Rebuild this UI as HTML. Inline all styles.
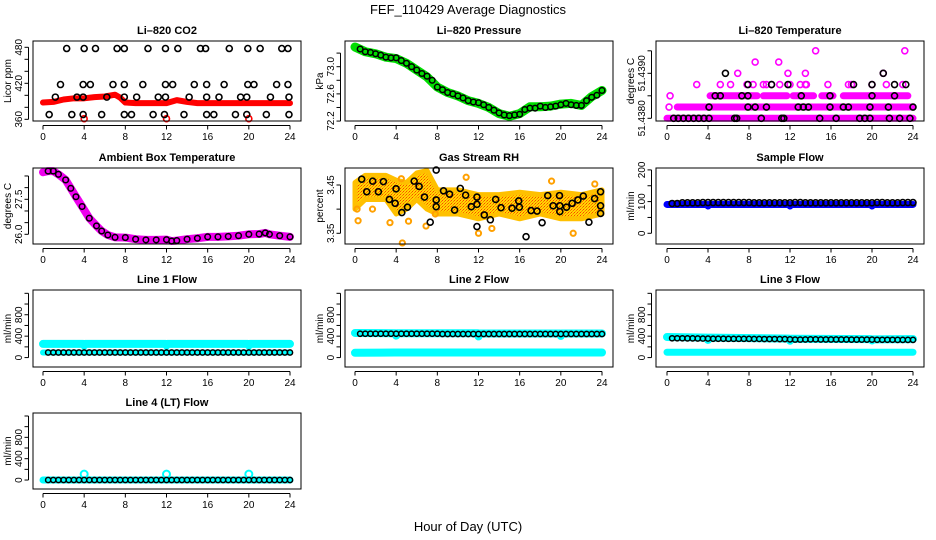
<!DOCTYPE html>
<html><head><meta charset="utf-8"><style>
html,body{margin:0;padding:0;background:#fff}
svg{display:block;font-family:"Liberation Sans",Arial,sans-serif}
</style></head><body>
<svg id="c" width="936" height="540" viewBox="0 0 936 540" xmlns="http://www.w3.org/2000/svg">
<defs><pattern id="dith" width="3" height="3" patternUnits="userSpaceOnUse"><rect width="3" height="3" fill="#ffd800"/><rect width="1" height="1" fill="#ff7000"/><rect x="2" y="1" width="1" height="1" fill="#ff9000"/><rect x="1" y="2" width="1" height="1" fill="#ff4000"/></pattern></defs>
<text x="468" y="14" text-anchor="middle" font-size="13">FEF_110429  Average Diagnostics</text>
<text x="468" y="531" text-anchor="middle" font-size="13">Hour of Day (UTC)</text>
</svg>
<script>
// ---------- data ----------
const xTicks=[0,4,8,12,16,20,24];
// CO2
const co2RedHours=[0,1,2,3,4,5,6,7,7.5,8,9,10,11,12,13,14,15,16,17,18,19,20,21,22,23,24];
const co2RedVals=[388,389,393,395,395,397,398,401,396,388,387,387,387,387,392,389,387,387,387,387,387,387,387,387,387,387];
const co2OutHours=[4,12,20];
const co2OutVals=[361,361,361];
const co2BlackHours=[2.3,4.0,5.1,7.2,7.9,10.2,11.9,13.1,15.3,15.8,18.1,19.9,21.1,23.2,23.8,1.7,3.9,4.6,6.8,7.9,9.7,11.9,12.6,14.7,15.9,17.6,19.9,20.5,22.7,23.8,1.2,3.3,3.9,6.2,7.9,9.1,11.2,11.9,14.2,15.9,17.1,19.2,19.8,22.1,23.9,0.6,2.8,3.9,5.7,7.9,8.6,10.7,11.8,13.7,15.9,16.6,18.7,19.8,21.7,23.9];
const co2BlackVals=[478,478,478,478,478,478,478,478,478,478,478,478,478,478,478,418,418,418,418,418,418,418,418,418,418,418,418,418,418,418,397,397,397,397,397,397,397,397,397,397,397,397,397,397,397,368,368,368,368,368,368,368,368,368,368,368,368,368,368,368];
// Pressure
const presHours=[0,1,2,3,4,5,6,7,8,9,10,11,12,13,14,15,16,17,18,19,20,21,22,23,24];
const presVals=[73.29,73.22,73.19,73.14,73.12,73.05,72.95,72.85,72.70,72.62,72.57,72.50,72.46,72.40,72.31,72.27,72.31,72.41,72.41,72.42,72.45,72.46,72.43,72.56,72.65];
const presBlackHours=[0.5,1,1.5,2,2.5,3,3.5,4,4.5,5,5.5,6,6.5,7,7.5,8,8.5,9,9.5,10,10.5,11,11.5,12,12.5,13,13.5,14,14.5,15,15.5,16,16.5,17,17.5,18,18.5,19,19.5,20,20.5,21,21.5,22,22.5,23,23.5,24];
const presBlackVals=[73.26,73.22,73.21,73.19,73.17,73.14,73.13,73.13,73.09,73.05,73.00,72.95,72.90,72.86,72.80,72.70,72.66,72.62,72.60,72.57,72.54,72.50,72.48,72.47,72.44,72.40,72.36,72.32,72.29,72.28,72.29,72.30,72.37,72.39,72.39,72.42,72.40,72.41,72.42,72.44,72.46,72.44,72.43,72.43,72.50,72.55,72.58,72.65];
// Li-820 temperature (discrete levels)
const tBandStart=[0,1.0,4.2,9.4,12.3,15.1,17.2,20.4];
const tBandEnd=[24,24,8.8,11.7,14.3,16.2,20.4,23.5];
const tBandVals=[51.4380,51.43825,51.4385,51.4385,51.4385,51.4385,51.4385,51.4385];
const tMagHours=[0.2,0.3,2.9,5.2,6.2,7.8,8.4,9.4,9.7,10.2,11.0,12.0,13.0,13.5,13.6,15.7,17.7,18.0,20.0,21.4,23.0,6.9,11.8,13.5,21.1,8.6,10.9,14.5,23.2];
const tMagVals=[51.43825,51.4385,51.43875,51.43875,51.43875,51.43875,51.43875,51.43875,51.43875,51.43875,51.43875,51.43875,51.43875,51.43875,51.43875,51.43875,51.43875,51.43875,51.43875,51.43875,51.43875,51.4390,51.4390,51.4390,51.4390,51.43925,51.43925,51.4395,51.4395];
const tBlackHours=[0.65,1.1,1.6,2.1,2.6,3.1,3.6,4.1,6.6,6.8,9.2,11.2,11.4,14.9,16.5,18.8,19.3,19.8,21.7,22.7,23.7,4.1,7.9,8.6,9.7,12.8,13.3,13.8,15.9,17.2,17.7,19.8,21.6,24,4.7,5.2,7.3,7.9,13.1,15.9,20.0,22.2,7.9,10.2,11.8,18.2,20.0,22.2,23.3,5.7,21.1];
const tBlackVals=[51.4380,51.4380,51.4380,51.4380,51.4380,51.4380,51.4380,51.4380,51.4380,51.4380,51.4380,51.4380,51.4380,51.4380,51.4380,51.4380,51.4380,51.4380,51.4380,51.4380,51.4380,51.43825,51.43825,51.43825,51.43825,51.43825,51.43825,51.43825,51.43825,51.43825,51.43825,51.43825,51.43825,51.43825,51.4385,51.4385,51.4385,51.4385,51.4385,51.4385,51.4385,51.4385,51.43875,51.43875,51.43875,51.43875,51.43875,51.43875,51.43875,51.4390,51.4390];
// Ambient box temperature
const ambHours=[0,0.5,1,1.5,2.2,2.7,3.2,3.8,4.5,5.2,5.7,6.3,7,8,9,10,11,12,12.5,13,14,15,16,17,18,19,20,21,21.6,22,23,24];
const ambVals=[28.66,28.71,28.71,28.57,28.33,27.97,27.61,27.19,26.69,26.36,26.14,25.97,25.87,25.86,25.79,25.76,25.76,25.77,25.71,25.73,25.79,25.83,25.89,25.89,25.91,25.94,26.0,26.01,26.06,26.0,25.94,25.89];
// Gas stream RH
const rhBandHours=[0,1,3,4,5,6,7,8,10,12,14,16,18,20,22,24];
const rhUpper=[3.455,3.47,3.47,3.46,3.455,3.475,3.48,3.44,3.44,3.43,3.43,3.435,3.43,3.435,3.43,3.44];
const rhLower=[3.40,3.42,3.42,3.39,3.40,3.42,3.40,3.39,3.39,3.38,3.39,3.38,3.39,3.38,3.38,3.39];
const rhOutHours=[0.2,0.3,1.7,3.4,4.6,5.2,6.9,12.0,13.3,21.2,19.1,23.3,7.8,4.5,10.8];
const rhOutVals=[3.40,3.376,3.40,3.372,3.33,3.375,3.365,3.35,3.36,3.35,3.458,3.452,3.39,3.463,3.466];
const rhBlackHours=[0.65,1.14,1.72,2.27,2.76,3.34,3.90,3.99,4.55,5.10,5.75,6.23,6.75,7.31,7.89,7.89,7.89,8.60,9.19,9.68,10.23,10.75,11.30,11.85,11.85,11.85,12.56,13.15,13.67,14.19,15.26,15.91,15.97,16.62,17.11,17.69,18.18,18.73,19.25,19.87,19.90,19.90,20.55,21.10,21.66,22.18,22.73,23.28,23.86,23.86,23.86];
const rhBlackVals=[3.462,3.436,3.458,3.436,3.457,3.420,3.412,3.442,3.393,3.404,3.458,3.447,3.425,3.373,3.481,3.419,3.405,3.438,3.431,3.398,3.443,3.429,3.405,3.425,3.410,3.364,3.388,3.378,3.420,3.403,3.402,3.417,3.404,3.343,3.397,3.396,3.372,3.428,3.407,3.428,3.407,3.395,3.404,3.412,3.419,3.427,3.373,3.422,3.436,3.407,3.391];
// Flow panels
const flowHours=[0.5,1,1.5,2,2.5,3,3.5,4,4.5,5,5.5,6,6.5,7,7.5,8,8.5,9,9.5,10,10.5,11,11.5,12,12.5,13,13.5,14,14.5,15,15.5,16,16.5,17,17.5,18,18.5,19,19.5,20,20.5,21,21.5,22,22.5,23,23.5,24];
const sampleBlack=[94,94,96,96,96,96,97,97,97,97,97,97,97,97,97,97,96,96,96,96,96,96,96,96,97,97,96,96,96,96,96,96,96,96,96,96,96,96,96,96,97,97,96,96,96,97,97,97];
const lineHours=[0,3.9,4,4.1,11.9,12,12.1,19.9,20,20.1,24];
const sampleBlue=[91,91,86,91,91,86,91,91,86,91,91];
const l1Cyan=[255,255,225,255,255,225,255,255,225,255,255];
const l1CyanLow=[95,95,95,95,95,95,95,95,95,95,95];
const l1Black=[95,95,95,95,95,95,95,95,95,95,95,95,95,95,95,95,95,95,95,95,95,95,95,95,95,95,95,95,95,95,95,95,95,95,95,95,95,95,95,95,95,95,95,95,95,95,95,95];
const l2Cyan=[460,455,410,455,455,395,450,450,405,450,450];
const l2CyanLow=[90,95,95,95,95,95,95,95,95,95,95];
const l2Black=[445,445,445,445,445,445,445,445,445,445,445,445,445,445,445,445,440,440,440,440,440,440,440,440,440,440,440,440,440,440,440,440,440,440,440,440,440,440,440,440,440,440,440,440,440,440,440,440];
const l3Cyan=[385,372,330,372,355,315,352,345,320,340,345];
const l3CyanLow=[100,100,100,100,100,100,100,100,100,100,100];
const l3Black=[360,360,360,358,358,356,355,355,352,352,352,350,350,350,350,350,348,348,346,346,346,345,345,340,336,336,338,340,340,338,338,338,338,338,338,335,335,335,335,335,332,332,332,332,330,330,330,330];
const l4Cyan=[0,0,0,0,0,0,0,0,0,0,0];
const l4OutHours=[4,12,20];
const l4OutVals=[110,110,110];
const l4Black=[0,0,0,0,0,0,0,0,0,0,0,0,0,0,0,0,0,0,0,0,0,0,0,0,0,0,0,0,0,0,0,0,0,0,0,0,0,0,0,0,0,0,0,0,0,0,0,0];

// ---------- drawing ----------
const NS='http://www.w3.org/2000/svg';
const svg=document.getElementById('c');
function mk(tag,attrs,parent){const e=document.createElementNS(NS,tag);for(const k in attrs)e.setAttribute(k,attrs[k]);(parent||svg).appendChild(e);return e;}
const cols=[[33,301,43,290],[345,613,355,602],[656,924,667,913]];
const rows=[[41,121],[168,244],[290,367],[413,489]];

function panel(col,row,title,ylab,yd,ticks,labels,fmt,key){
  const [bx0,bx1,tx0,tx1]=cols[col];const [by0,by1]=rows[row];
  const g=mk('g',{});
  
  
  const sx=h=>tx0+h*(tx1-tx0)/24;
  const sy=v=>by1-(v-yd[0])*(by1-by0)/(yd[1]-yd[0]);
  const t=mk('text',{x:(bx0+bx1)/2,y:by0-7,'text-anchor':'middle','font-size':'11','font-weight':'bold'},g);
  t.textContent=title;
  
  
  const yl=mk('text',{transform:`translate(${bx0-22},${(by0+by1)/2}) rotate(-90)`,'text-anchor':'middle','font-size':'10'},g);
  yl.textContent=ylab;
  
  
  const ax=mk('g',{stroke:'#000','stroke-width':'1',fill:'none'},g);
  
  
  mk('line',{x1:sx(0),x2:sx(24),y1:by1+4.5,y2:by1+4.5},ax);
  xTicks.forEach(h=>{
    mk('line',{x1:sx(h),x2:sx(h),y1:by1+4.5,y2:by1+8.5},ax);
    const l=mk('text',{x:sx(h),y:by1+19,'text-anchor':'middle','font-size':'10',fill:'#000',stroke:'none'},g);
    l.textContent=h;
    
    
  });
  const ay=mk('g',{stroke:'#000','stroke-width':'1',fill:'none'},g);
  
  
  mk('line',{x1:bx0-4.5,x2:bx0-4.5,y1:sy(ticks[0]),y2:sy(ticks[ticks.length-1])},ay);
  ticks.forEach(v=>mk('line',{x1:bx0-8.5,x2:bx0-4.5,y1:sy(v),y2:sy(v)},ay));
  labels.forEach(v=>{
    const l=mk('text',{transform:`translate(${bx0-11},${sy(v)}) rotate(-90)`,'text-anchor':'middle','font-size':'10'},g);
    l.textContent=fmt(v);
    
    
  });
  const plot=mk('g',{},g);
  
  
  const box=mk('rect',{x:bx0,y:by0,width:bx1-bx0,height:by1-by0,fill:'none',stroke:'#000','stroke-width':'1'},g);
  
  
  return {sx,sy,g:plot};
}
function band(p,hs,vs,color,w,name){
  const pl=mk('polyline',{points:hs.map((h,i)=>p.sx(h)+','+p.sy(vs[i])).join(' '),fill:'none',stroke:color,'stroke-width':w,'stroke-linecap':'round','stroke-linejoin':'round'},p.g);
  
  
}
function pts(p,hs,vs,color,name,r,sw){
  hs.forEach((h,i)=>{
    const c=mk('circle',{cx:p.sx(h),cy:p.sy(vs[i]),r:r||3,fill:'none',stroke:color,'stroke-width':sw||1.6},p.g);
    
    
  });
}
const f0=v=>String(v), f1=v=>v.toFixed(1), f2=v=>v.toFixed(2), f4=v=>v.toFixed(4);

// CO2
let p=panel(0,0,'Li\u2013820 CO2','Licor ppm',[357.2,490.5],[360,380,400,420,440,460,480],[360,420,480],f0,'co2');
band(p,co2RedHours,co2RedVals,'#ff0000',6,'co2-red-series');
pts(p,co2OutHours,co2OutVals,'#ff0000','co2-red-point');
pts(p,co2BlackHours,co2BlackVals,'#000','co2-black-point');
// Pressure
p=panel(1,0,'Li\u2013820 Pressure','kPa',[72.201,73.378],[72.2,72.4,72.6,72.8,73.0,73.2],[72.2,72.6,73.0],f1,'pressure');
band(p,presHours,presVals,'#00dd00',9,'pressure-green-series');
pts(p,presBlackHours,presBlackVals,'#000','pressure-black-point',2.8,1.5);
// Temperature
p=panel(2,0,'Li\u2013820 Temperature','degrees C',[51.43794,51.439718],[51.4380,51.4385,51.4390,51.4395],[51.4380,51.4390],f4,'li820-temp');
tBandStart.forEach((s,i)=>band(p,[s,tBandEnd[i]],[tBandVals[i],tBandVals[i]],'#ff00ff',7,'li820-temp-magenta-band'));
pts(p,tMagHours,tMagVals,'#ff00ff','li820-temp-magenta-point');
pts(p,tBlackHours,tBlackVals,'#000','li820-temp-black-point');
// Ambient
p=panel(0,1,'Ambient Box Temperature','degrees C',[25.584,28.842],[26,26.5,27,27.5,28,28.5],[26,27.5],f1,'ambient');
band(p,ambHours,ambVals,'#ee00ee',8,'ambient-magenta-series');
pts(p,ambHours.slice(1),ambVals.slice(1),'#000','ambient-black-point',2.8,1.5);
// RH
p=panel(1,1,'Gas Stream RH','percent',[3.3278,3.4852],[3.35,3.40,3.45],[3.35,3.45],f2,'rh');
{const poly=rhBandHours.map((h,i)=>p.sx(h)+','+p.sy(rhUpper[i])).concat(rhBandHours.slice().reverse().map((h,j)=>p.sx(h)+','+p.sy(rhLower[rhBandHours.length-1-j])));
 const pg=mk('polygon',{points:poly.join(' '),fill:'url(#dith)',stroke:'#ffc000','stroke-width':'5','stroke-linejoin':'round'},p.g);
 
 }
pts(p,rhOutHours,rhOutVals,'#ffa000','rh-orange-point',2.6,2);
pts(p,rhBlackHours,rhBlackVals,'#000','rh-black-point');
// Sample flow
p=panel(2,1,'Sample Flow','ml/min',[-33.8,206],[0,50,100,150,200],[0,100,200],f0,'sample-flow');
band(p,lineHours,sampleBlue,'#0000ff',7,'sample-flow-blue-series');
pts(p,flowHours,sampleBlack,'#000','sample-flow-black-point');
// Line flows
const fT=[0,200,400,600,800,1000,1200], fL=[0,400,800];
p=panel(0,2,'Line 1 Flow','ml/min',[-176,1262],fT,fL,f0,'line1');
band(p,lineHours,l1Cyan,'#00ffff',8,'line1-cyan-series');
band(p,lineHours,l1CyanLow,'#00ffff',6,'line1-cyan-low-series');
pts(p,flowHours,l1Black,'#000','line1-black-point',2.6,1.5);
p=panel(1,2,'Line 2 Flow','ml/min',[-176,1262],fT,fL,f0,'line2');
band(p,lineHours,l2Cyan,'#00ffff',8,'line2-cyan-series');
band(p,lineHours,l2CyanLow,'#00ffff',8,'line2-cyan-low-series');
pts(p,flowHours,l2Black,'#000','line2-black-point',2.6,1.5);
p=panel(2,2,'Line 3 Flow','ml/min',[-176,1262],fT,fL,f0,'line3');
band(p,lineHours,l3Cyan,'#00ffff',8,'line3-cyan-series');
band(p,lineHours,l3CyanLow,'#00ffff',7,'line3-cyan-low-series');
pts(p,flowHours,l3Black,'#000','line3-black-point',2.6,1.5);
p=panel(0,3,'Line 4 (LT) Flow','ml/min',[-168,1256],fT,fL,f0,'line4');
band(p,lineHours,l4Cyan,'#00ffff',7,'line4-cyan-series');
pts(p,l4OutHours,l4OutVals,'#00ffff','line4-cyan-point',3.5,2);
pts(p,flowHours,l4Black,'#000','line4-black-point',2.6,1.5);
</script>
</body></html>
